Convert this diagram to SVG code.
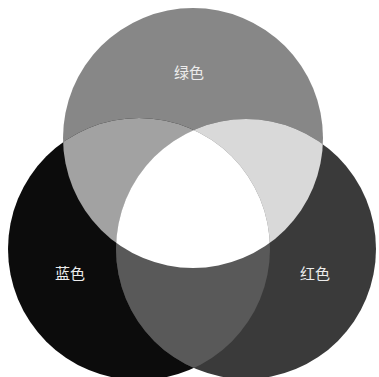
<svg xmlns="http://www.w3.org/2000/svg" width="379" height="377" viewBox="0 0 379 377">
<style>
.lbl{font-family:"Noto Sans CJK SC","Noto Sans CJK JP",sans-serif;font-size:15px;fill:#ececec;text-anchor:middle;dominant-baseline:central}
</style>
<defs>
<clipPath id="cG"><circle cx="193" cy="138" r="130"/></clipPath>
<clipPath id="cB"><circle cx="139" cy="249" r="131"/></clipPath>
</defs>
<rect width="379" height="377" fill="#ffffff"/>
<g id="green"><circle cx="193" cy="138" r="130" fill="#878787"/></g>
<g id="blue"><circle cx="139" cy="249" r="131" fill="#0c0c0c"/></g>
<g id="red"><circle cx="246" cy="249" r="130" fill="#3a3a3a"/></g>
<g id="overlaps">
<circle cx="139" cy="249" r="131" fill="#a2a2a2" clip-path="url(#cG)"/>
<circle cx="246" cy="249" r="130" fill="#d9d9d9" clip-path="url(#cG)"/>
<circle cx="246" cy="249" r="130" fill="#595959" clip-path="url(#cB)"/>
<g clip-path="url(#cG)"><circle cx="246" cy="249" r="130" fill="#ffffff" clip-path="url(#cB)"/></g>
</g>
<g id="labels">
<text class="lbl" x="189" y="71">绿色</text>
<text class="lbl" x="70" y="272">蓝色</text>
<text class="lbl" x="315" y="272">红色</text>
</g>
</svg>
